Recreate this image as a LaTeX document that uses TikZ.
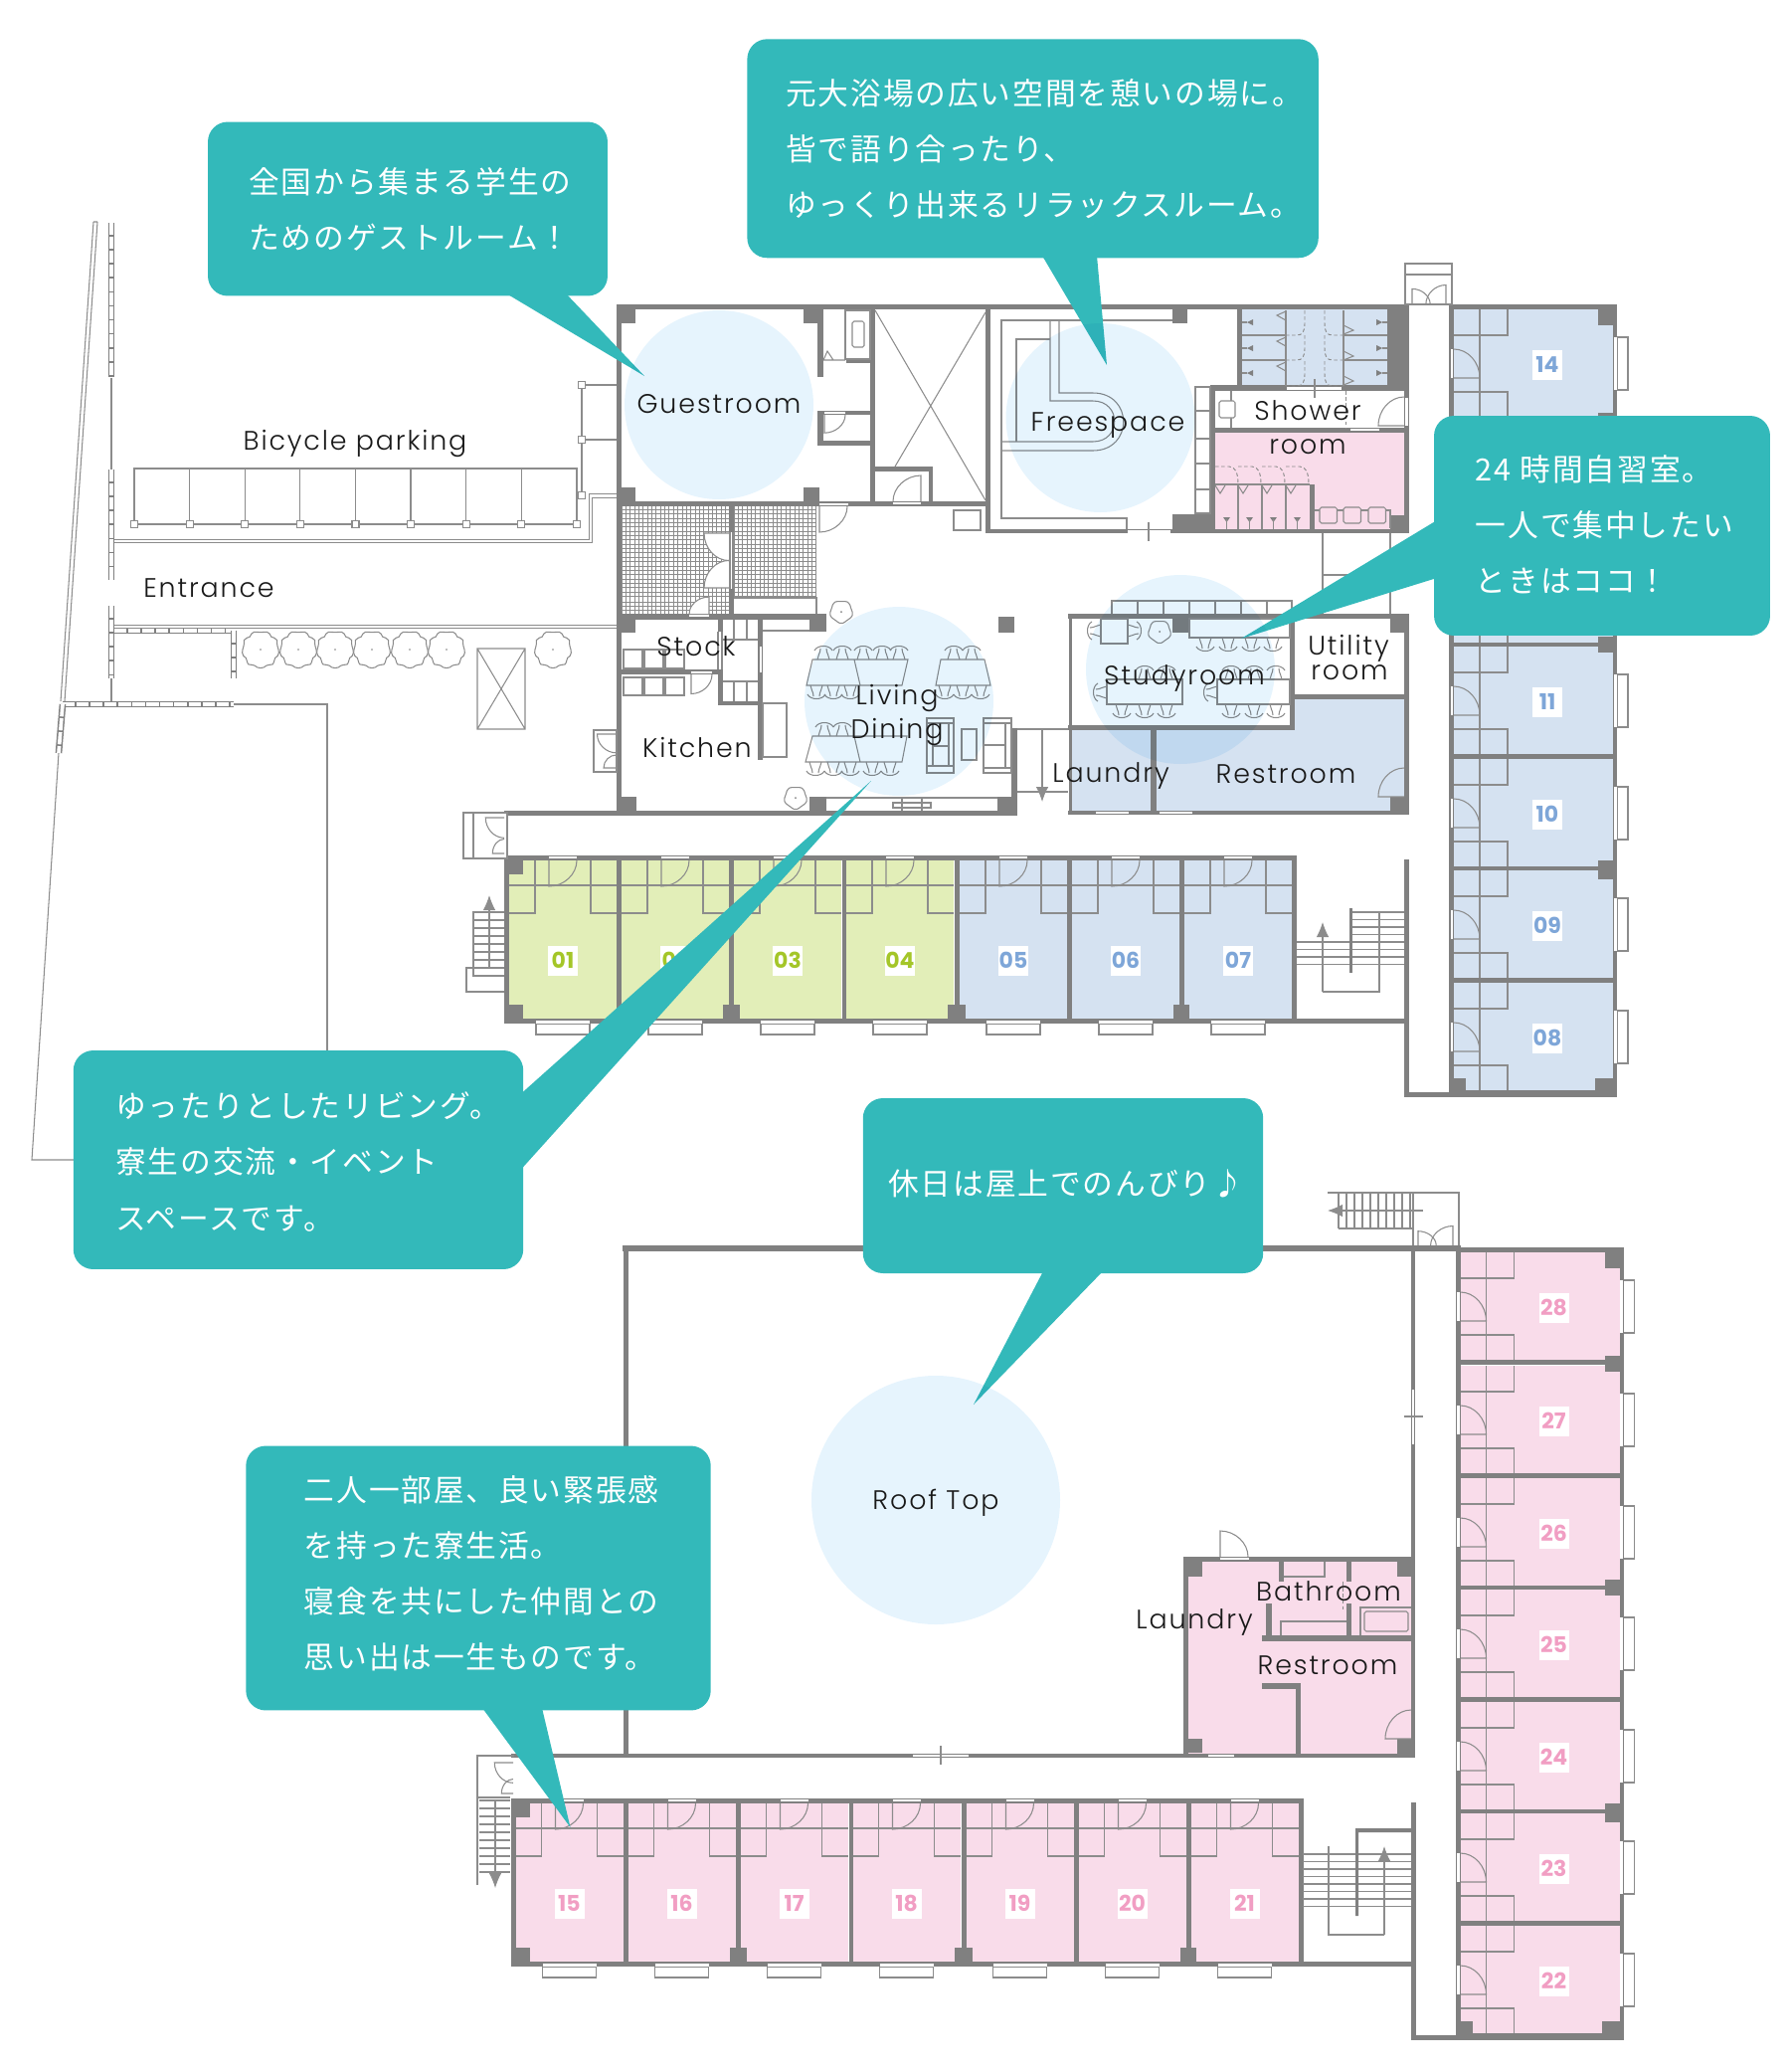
\documentclass[tikz,border=0pt]{standalone}
\usepackage{fontspec}
\setmainfont{Poppins}
\newfontfamily\labelfont[LetterSpace=7]{Poppins Light}
\newfontfamily\cjk[LetterSpace=6]{Noto Sans CJK JP}
\usetikzlibrary{positioning,arrows.meta,calc,decorations.pathreplacing}
\definecolor{wallGray}{RGB}{128,128,128}
\definecolor{lineGray}{RGB}{140,140,140}
\definecolor{roomGreen}{RGB}{226,238,184}
\definecolor{roomBlue}{RGB}{213,226,241}
\definecolor{roomPink}{RGB}{249,220,234}
\definecolor{numGreen}{RGB}{164,198,40}
\definecolor{numBlue}{RGB}{126,166,216}
\definecolor{numPink}{RGB}{241,158,195}
\definecolor{bubbleTeal}{RGB}{51,185,186}
\definecolor{spotBlue}{RGB}{230,244,253}
\tikzset{
  fineline/.style={draw=lineGray, line width=0.6pt},
  dashline/.style={draw=lineGray, line width=0.55pt, dash pattern=on 2pt off 1.5pt},
  twinline/.style={draw=lineGray, line width=0.6pt, double=white, double distance=1.6pt},
  bubble/.style={fill=bubbleTeal, rounded corners=0.4cm, inner sep=0pt},
  bubbletext/.style={text=white, anchor=west, align=left, inner sep=0pt, font=\cjk\fontsize{17.5}{31.9}\selectfont},
  roomlabel/.style={text=black!90, align=center, inner sep=0pt, font=\labelfont\fontsize{15.3}{15.3}\selectfont},
  numbox/.style={fill=white, minimum size=0.6cm, inner sep=0pt, font=\bfseries\fontsize{12.5}{12.5}\selectfont},
  doorV/.pic={\draw[fineline] (0,0) -- (0,26) .. controls (15,26) and (28,14) .. (28,0);},
  doorH/.pic={\draw[fineline] (0,0) -- (26,0) .. controls (26,-16) and (14,-29) .. (0,-29);},
  chairpic/.pic={\draw[fineline] (-6,0) .. controls (-6,4) and (-3,6) .. (-3,11) (6,0) .. controls (6,4) and (3,6) .. (3,11) (-9,9) .. controls (-6,15) and (6,15) .. (9,9);},
  chairside/.pic={\draw[fineline] (0,-6) .. controls (4,-6) and (6,-3) .. (11,-3) (0,6) .. controls (4,6) and (6,3) .. (11,3) (9,-9) .. controls (15,-6) and (15,6) .. (9,9);},
  stoolpic/.pic={\draw[fineline] plot[smooth cycle, domain=0:340, samples=18] ({11*(1+0.06*sin(5*\x))*cos(\x)},{11*(1+0.06*sin(5*\x))*sin(\x)}); \fill[wallGray] (0,0) circle (1);},
}
% one row of rooms along the south corridor
\newcommand{\southrow}[1]{
  \foreach \xl/\num/\fc/\nc in {#1} {
    \fill[\fc] (\xl,865) rectangle ++(108,159);
    \draw[fineline] (\xl,890) -- ++(108,0);
    \draw[fineline] (\xl,865) ++(26,0) -- ++(0,53) -- ++(-26,0);
    \draw[fineline] (\xl,865) ++(82,0) -- ++(0,53) -- ++(26,0);
    \pic at ($(\xl,865)+(40,0)$) {doorV};
    \draw[fineline,fill=white] (\xl,1029) ++(27,0) rectangle ++(54,11);
    \node[numbox,text=\nc] (room\num) at ($(\xl,965.5)+(54,0)$) {\num};
  }
  \foreach \ax/\ay/\bx/\by in {507/860/1304/865, 507/1024/1416/1029, 507/860/512/1029,
      620/865/625/1024, 733/865/738/1024, 847/865/851/1024, 960/865/965/1024,
      1073/865/1078/1024, 1186/865/1191/1024, 1299/865/1304/1024,
      512/865/526/879, 512/1010/526/1024, 727/1010/744/1024, 953/1010/971/1024, 1180/1010/1196/1024}
    \fill[wallGray] (\ax,\ay) rectangle (\bx,\by);
  \foreach \xl/\num/\fc/\nc in {#1} {
    \fill[white] (\xl,860.5) ++(40,0) rectangle ++(28,2.5);
    \fill[white] (\xl,1026) ++(27,0) rectangle ++(54,3);
  }
}
% one wing of rooms along the east corridor
\newcommand{\eastwing}[1]{
  \foreach \yt/\fc in {#1} {
    \fill[\fc] (1462,\yt) rectangle (1622,\yt+108);
    \draw[fineline] (1488,\yt) -- ++(0,108);
    \draw[fineline] (1462,\yt+26) -- ++(54,0) -- ++(0,-26);
    \draw[fineline] (1462,\yt+83) -- ++(54,0) -- ++(0,25);
    \pic at (1462,\yt+69) {doorH};
    \draw[fineline,fill=white] (1626,\yt+28) rectangle (1637,\yt+81);
    \fill[wallGray] (1462,\yt+108) rectangle (1626,\yt+113);
  }
  \foreach \ax/\ay/\bx/\by in {1457/306/1462/1103, 1622/306/1626/1103, 1457/306/1626/311,
      1412/1098/1626/1103, 1412/864/1417/1103, 1607/311/1622/327, 1607/415/1626/431,
      1607/640/1626/656, 1607/865/1626/884, 1604/1084/1626/1098, 1462/1084/1474/1098}
    \fill[wallGray] (\ax,\ay) rectangle (\bx,\by);
  \foreach \yt/\fc in {#1} {
    \fill[white] (1458.5,\yt+40) rectangle ++(2.5,29);
    \fill[white] (1622.5,\yt+28) rectangle ++(3,53);
  }
}
\newcommand{\brickline}[2]{
  \draw[draw=wallGray,line width=3.8pt] #1 -- #2;
  \draw[draw=white,line width=2.1pt,dash pattern=on 7pt off 1pt] #1 -- #2;
}
\begin{document}
\begin{tikzpicture}[x=0.02cm,y=-0.02cm]
  \useasboundingbox (0,0) rectangle (1800,2083);

  % Site outline
  \draw[fineline] (94,223) -- (61,705) (98,223) -- (65,705) (94,223) -- (98,223);
  \draw[fineline] (59,757) -- (32,1166) -- (76,1166);
  \draw[fineline] (112,379) -- (112,472) (112,682) -- (112,705);
  \draw[fineline] (235,708) -- (329,708) -- (329,1058);
  \brickline{(112,224)}{(112,379)}
  \brickline{(112,472)}{(112,583)}
  \brickline{(112,609)}{(112,682)}
  \brickline{(63,708)}{(235,708)}
  \brickline{(63,708)}{(59,757)}
  \brickline{(115,634)}{(238,634)}
  \brickline{(235,634)}{(235,682)}
  \draw[twinline] (115,544) -- (594,544) -- (594,498.5) -- (620,498.5);
  \draw[twinline] (115,630) -- (620,630);

  % Bicycle parking
  \draw[fineline] (135,527) -- (135,471) -- (580,471) -- (580,527) -- cycle;
  \draw[fineline] (585,387) -- (585,498) (585,387) -- (620,387) (585,442) -- (620,442);
  \foreach \px in {135,190.6,246.2,301.8,357.5,413,468.7,524.3,580} {
    \draw[fineline] (\px,471) -- (\px,527);
    \draw[fineline,fill=white] (\px-3.5,523.5) rectangle ++(7,7);
  }
  \foreach \py in {387,442,498} \draw[fineline,fill=white] (581.5,\py-3.5) rectangle ++(7,7);

  % Trees and lift pit
  \foreach \tx in {262,300,337,374,412,449,556} {
    \draw[fineline] plot[smooth cycle, domain=0:350, samples=36] ({\tx+18*(1+0.05*sin(9*\x)+0.02*sin(23*\x))*cos(\x)},{653+18*(1+0.05*sin(9*\x)+0.02*sin(23*\x))*sin(\x)});
    \fill[wallGray] (\tx,653) circle (0.8);
  }
  \draw[fineline] (480,652) rectangle (528,733) (480,652) -- (528,733) (528,652) -- (480,733);

  % Coloured floors, ground level
  \fill[roomBlue] (1249,311) rectangle (1395,388);
  \fill[roomPink] (1222,435) rectangle (1412,532);
  \fill[roomBlue] (1078,734) rectangle (1157,815);
  \fill[roomBlue] (1163,734) -- (1302,734) -- (1302,703) -- (1412,703) -- (1412,815) -- (1163,815) -- cycle;

  % Entrance tiles
  \foreach \gx in {625,629.35,...,734} \draw[lineGray,line width=0.45pt] (\gx,508) -- (\gx,617);
  \foreach \gx in {738,742.35,...,822} \draw[lineGray,line width=0.45pt] (\gx,508) -- (\gx,601);
  \foreach \gy in {508,512.35,...,601} \draw[lineGray,line width=0.45pt] (625,\gy) -- (821,\gy);
  \foreach \gy in {605,609.35,613.7} \draw[lineGray,line width=0.45pt] (625,\gy) -- (734,\gy);
  \draw[fineline] (738,601) -- (821,601) -- (821,617);

  % Main walls, ground level
  \foreach \ax/\ay/\bx/\by in {620/306/1417/311, 620/306/625/819, 875/306/880/509, 620/504/996/509,
      620/311/639/325, 808/311/828/325, 620/490/639/504, 808/490/824/504, 822/311/828/379,
      822/413/875/417, 822/443/875/448, 822/413/828/448, 851/361/875/365, 880/469/938/474, 934/469/938/504,
      733/509/738/535, 733/592/738/617, 620/617/831/623, 620/623/639/636, 620/801/640/815, 814/801/831/815, 814/623/831/635,
      1003/801/1017/815, 1004/620/1020/636, 1017/732/1023/819, 507/815/1023/820, 762/623/767/764, 625/673/722/678,
      722/623/727/635, 722/673/727/709, 722/705/767/709, 991/306/996/536, 991/532/1417/536, 1217/387/1222/532,
      1244/311/1249/393, 1217/387/1417/393, 1395/311/1417/393, 1217/430/1417/435, 1412/311/1417/536,
      1179/311/1194/325, 1179/517/1220/532, 1317/487/1322/532, 1398/518/1417/532,
      1074/617/1417/622, 1075/617/1078/819, 1074/729/1302/734, 1297/622/1302/734, 1302/698/1417/703,
      1157/734/1163/815, 1074/815/1417/819, 1412/617/1417/819, 1398/622/1415/636, 1179/622/1195/636,
      1398/801/1417/815}
    \fill[wallGray] (\ax,\ay) rectangle (\bx,\by);

  % Void, closets and bath
  \draw[fineline] (880,312) -- (991,503) (991,314) -- (900,469);
  \draw[fineline] (850,312) rectangle (875,361);
  \draw[fineline,rounded corners=1pt] (857,323) rectangle (869,349);
  \draw[fineline] (828,362) -- (850,362) (828,362) -- (832,353) -- (838,362);
  \pic[xscale=0.75,yscale=0.7] at (829,417) {doorV};
  \fill[white] (829,414) rectangle ++(21,2);
  \pic[xscale=-1,yscale=-1] at (926,504) {doorV};
  \fill[white] (898,505) rectangle ++(28,2);
  \pic at (824,509) {doorV};
  \fill[white] (824,506) rectangle ++(29,2);
  \draw[fineline] (959,513) rectangle (986,533);

  % Entrance double door
  \fill[white] (733,535) rectangle (738,592);
  \fill[white] (733,536) -- (708,536) .. controls (708,551) and (720,563.5) .. (733,563.5) -- cycle;
  \fill[white] (733,591) -- (708,591) .. controls (708,576) and (720,563.5) .. (733,563.5) -- cycle;
  \pic[xscale=-0.96,yscale=-0.95] at (733,536) {doorH};
  \pic[xscale=-0.96,yscale=0.95] at (733,591) {doorH};
  \draw[fineline] (734,535) -- (734,592) (737,535) -- (737,592);
  \fill[white] (713,617) -- (713,600) .. controls (702,600) and (693,608) .. (693,617) -- cycle;
  \pic[xscale=-0.71,yscale=-0.65] at (713,617) {doorV};
  \fill[white] (693,618) rectangle ++(20,2);

  % Freespace
  \draw[fineline] (1179,322) -- (1007,322) -- (1007,521) -- (1133,521) -- (1133,532);
  \draw[fineline] (1065,322) -- (1065,395) -- (1099,395) .. controls (1140,395) and (1140,453) .. (1099,453) -- (1007,453);
  \draw[fineline] (1056,322) -- (1056,403) -- (1099,403) .. controls (1128,403) and (1128,444) .. (1099,444) -- (1007,444);
  \draw[fineline] (1056,341) -- (1022,341) -- (1022,444);
  \draw[fineline] (1202,389) rectangle (1217,516);
  \foreach \by in {413,441,466,492} \draw[fineline] (1202,\by) -- (1217,\by);
  \fill[white] (1134,532.5) rectangle (1177,535.5);
  \draw[fineline] (1155,525) -- (1155,544);

  % Toilets
  \draw[fineline] (1249,337) -- (1293,337) (1249,362) -- (1293,362) (1351,337) -- (1395,337) (1351,362) -- (1395,362) (1293,312) -- (1293,388) (1351,312) -- (1351,388);
  \foreach \by in {324,350,375} {
    \fill[wallGray] (1254,\by) -- (1260,\by-3) -- (1260,\by+3) -- cycle;
    \fill[wallGray] (1390,\by) -- (1384,\by-3) -- (1384,\by+3) -- cycle;
    \draw[fineline] (1249,\by) -- (1254,\by) (1390,\by) -- (1395,\by);
    \draw[fineline] (1293,\by-11) -- (1284,\by-7) -- (1293,\by-2);
    \draw[fineline] (1351,\by+3) -- (1361,\by+8) -- (1351,\by+12);
  }
  \foreach \by in {337,362,388} {
    \draw[dashline] (1293,\by) -- (1304,\by) .. controls (1310,\by) and (1312,\by-4) .. (1312,\by-12) -- (1312,\by-25);
    \draw[dashline] (1351,\by) -- (1340,\by) .. controls (1334,\by) and (1332,\by-4) .. (1332,\by-12) -- (1332,\by-25);
  }
  \fill[white] (1294,389) rectangle (1349,392);
  \draw[fineline] (1322,381) -- (1322,400);

  % Showers
  \draw[fineline] (1238,393) -- (1238,430);
  \draw[fineline,rounded corners=1pt,fill=white] (1226,403) rectangle (1242,420);
  \pic[xscale=-1] at (1412,428) {doorH};
  \fill[white] (1358,431) rectangle (1387,433);
  \fill[white] (1412.5,400) rectangle (1415.5,428);
  \draw[dashline] (1353,393) -- (1353,430);
  \draw[fineline] (1222,487) -- (1317,487);
  \foreach \sx in {1245,1269,1293} \draw[fineline] (\sx,487) -- (\sx,532);
  \foreach \sx in {1222,1245,1269,1293} {
    \draw[dashline] (\sx,469) -- (\sx+14,469) .. controls (\sx+20,469) and (\sx+23,475) .. (\sx+23,487);
    \draw[fineline] (\sx,488) -- (\sx+5,496) -- (\sx+10,488);
    \fill[wallGray] (\sx+8,520) -- (\sx+15,520) -- (\sx+11.5,525) -- cycle;
    \draw[fineline] (\sx+11.5,522) -- (\sx+11.5,532);
  }
  \draw[fineline] (1322,513) -- (1398,513) -- (1398,531);
  \foreach \sx in {1327,1351,1376} \draw[fineline,rounded corners=1pt,fill=roomPink] (\sx,510) rectangle ++(17.5,16);

  % Stock, kitchen and stairs
  \foreach \sx in {627,648,669} \draw[fineline] (\sx,653) rectangle ++(19,19) (\sx,681) rectangle ++(19,18);
  \pic[xscale=0.75,yscale=0.75] at (695,678) {doorV};
  \fill[white] (695,675) rectangle ++(21,2);
  \draw[fineline] (722,635) -- (722,673) (726,635) -- (726,673);
  \draw[fineline] (727,643) -- (762,643) (727,685) -- (762,685) (738,623) -- (738,643) (751,623) -- (751,643) (738,685) -- (738,705) (751,685) -- (751,705);
  \fill[white] (763.5,650) rectangle (765.5,676);
  \draw[fineline] (767,707) rectangle (791,761) (767,634) -- (814,634);
  \draw[fineline] (597,734) rectangle (620,776);
  \pic[xscale=-0.75,yscale=-0.65] at (620,738) {doorH};
  \pic[xscale=-0.5,yscale=0.45] at (620,772) {doorH};

  % Living and dining
  \pic at (846,615) {stoolpic};
  \pic at (800,802) {stoolpic};
  \draw[fineline] (817,663) -- (913,663) -- (907,689) -- (811,689) -- cycle (859,663) -- (865,689);
  \draw[fineline] (946,663) -- (990,663) -- (996,689) -- (941,689) -- cycle;
  \draw[fineline] (817,740) -- (912,740) -- (907,766) -- (810,766) -- cycle (859,740) -- (865,766);
  \foreach \cx in {828,847,868,887,904,959,977} \pic[yscale=-1] at (\cx,663) {chairpic};
  \foreach \cx in {829,847} \pic[yscale=-1] at (\cx,740) {chairpic};
  \foreach \cx in {821,838,855,950,968,986} \pic at (\cx,689) {chairpic};
  \foreach \cx in {820,838,855,877,895} \pic at (\cx,766) {chairpic};
  \draw[fineline] (932,722) rectangle (959,777) (932,727) -- (959,727) (932,770) -- (959,770) (938,727) -- (938,770) (954,727) -- (954,770) (938,750) -- (954,750);
  \draw[fineline] (989,722) rectangle (1017,777) (989,727) -- (1017,727) (989,772) -- (1017,772) (1011,727) -- (1011,772) (989,749) -- (1011,749);
  \draw[fineline] (967,733) rectangle (982,764);
  \draw[fineline] (831,802) -- (1003,802) (898,807) rectangle (936,812) (907,802) -- (907,815) (927,802) -- (927,815);
  \draw[fineline] (1023,733) -- (1074,733) (1023,796) -- (1074,796);
  \draw[lineGray,line width=0.6pt,-{Latex[length=0.3cm,width=0.25cm]}] (1048,734) -- (1048,806);

  % Studyroom
  \draw[fineline] (1118,617) -- (1118,604) -- (1299,604) -- (1299,617);
  \foreach \sx in {1144,1170,1196,1222,1248,1274} \draw[fineline] (\sx,604) -- (\sx,617);
  \draw[fineline] (1330,536) -- (1330,617) (1398,536) -- (1398,617) (1330,578) -- (1398,578);
  \draw[fineline] (1107,622) rectangle (1134,647) (1196,622) rectangle (1297,641);
  \draw[fineline] (1113,683) rectangle (1189,708) (1224,683) rectangle (1297,708);
  \pic at (1166,635) {stoolpic};
  \foreach \cx in {1212,1235,1258,1280} \pic at (\cx,641) {chairpic};
  \foreach \cx in {1128,1151,1173,1238,1261,1283} \pic at (\cx,708) {chairpic};
  \foreach \cx in {1151,1173,1238,1261,1283} \pic[yscale=-1] at (\cx,683) {chairpic};
  \pic[xscale=-1] at (1107,634) {chairside};
  \pic at (1134,634) {chairside};
  \pic[xscale=-1] at (1113,696) {chairside};
  \pic[xscale=-1] at (1224,696) {chairside};
  \foreach \wx in {1102,1166} \fill[white] (\wx,816) rectangle ++(33,2);
  \pic[xscale=-1] at (1412,801) {doorH};

  % South rooms, ground level
  \southrow{512/01/roomGreen/numGreen, 625/02/roomGreen/numGreen, 738/03/roomGreen/numGreen, 851/04/roomGreen/numGreen, 965/05/roomBlue/numBlue, 1078/06/roomBlue/numBlue, 1191/07/roomBlue/numBlue}

  % East rooms, ground level
  \eastwing{311/roomBlue,425/roomBlue,538/roomBlue,650/roomBlue,763/roomBlue,875/roomBlue,988/roomBlue}
  \foreach \yt/\num in {311/14,650/11,763/10,875/09,988/08}
    \node[numbox,text=numBlue] (room\num) at (1556,\yt+55.5) {\num};

  % Doors and stairs, ground level
  \draw[fineline,fill=white] (1413,265) rectangle (1460,306) (1413,276) -- (1460,276);
  \pic[xscale=0.65,yscale=-0.6] at (1420,306) {doorV};
  \pic[xscale=-0.72,yscale=-0.75] at (1454,306) {doorV};
  \draw[fineline,fill=white] (466,817) rectangle (510,863) (476,817) -- (476,863);
  \pic[xscale=-0.72,yscale=-0.7] at (507,822) {doorH};
  \pic[xscale=-0.45,yscale=0.5] at (507,858) {doorH};
  \foreach \sy in {917,925,...,982} \draw[lineGray,line width=0.8pt] (475,\sy) -- (507,\sy);
  \draw[lineGray,line width=0.8pt] (476,917) -- (476,982);
  \draw[lineGray,line width=0.6pt,-{Latex[length=0.3cm,width=0.25cm]}] (492,973) -- (492,900);
  \draw[fineline] (507,973) -- (469,973) -- (469,997) -- (507,997);
  \foreach \sy in {917,924.5,...,947} \draw[lineGray,line width=0.8pt] (1358,\sy) -- (1412,\sy);
  \foreach \sy in {947,954.5,...,974} \draw[lineGray,line width=0.8pt] (1304,\sy) -- (1412,\sy);
  \fill[wallGray] (1357,913) rectangle (1360,978);
  \draw[lineGray,line width=0.6pt,-{Latex[length=0.3cm,width=0.25cm]}] (1330,997) -- (1330,927);
  \draw[fineline] (1330,997) -- (1387,997) -- (1387,917);

  % Roof top, upper level
  \foreach \ax/\ay/\bx/\by in {626/1252/1469/1258, 1419/1252/1423/1767, 627/1252/632/1767, 514/1763/1423/1767,
      1190/1565/1423/1570, 1190/1565/1195/1767, 1195/1570/1209/1585, 1195/1748/1209/1762}
    \fill[wallGray] (\ax,\ay) rectangle (\bx,\by);
  \fill[roomPink] (1195,1570) rectangle (1419,1763);
  \foreach \ax/\ay/\bx/\by in {1195/1570/1209/1585, 1195/1748/1209/1762, 1405/1570/1419/1585, 1405/1748/1423/1767,
      1286/1570/1291/1590, 1354/1570/1359/1590, 1273/1612/1279/1644, 1354/1612/1359/1644, 1269/1644/1419/1650,
      1269/1692/1308/1698, 1303/1692/1308/1763}
    \fill[wallGray] (\ax,\ay) rectangle (\bx,\by);
  \draw[fineline] (1291,1585) -- (1332,1585) -- (1332,1570) (1288,1644) -- (1288,1630) -- (1354,1630);
  \draw[fineline] (1368,1644) -- (1368,1616) -- (1419,1616);
  \draw[fineline,rounded corners=1pt] (1372,1620) rectangle (1416,1640);
  \draw[dashline] (1350,1590) -- (1350,1620);
  \pic[yscale=-1] at (1227,1565) {doorV};
  \fill[white] (1227,1566) rectangle ++(29,2);
  \pic[xscale=-1] at (1419,1748) {doorH};
  \fill[white] (1215,1763.5) rectangle ++(26,2);
  \fill[white] (918,1764) rectangle (974,1766);
  \draw[fineline] (946,1755) -- (946,1774);
  \fill[white] (1420,1397) rectangle (1422,1452);
  \draw[fineline] (1412,1424) -- (1431,1424);

  % Upper rooms, same plan as below
  \begin{scope}[shift={(6.5,948)}]
    \southrow{512/15/roomPink/numPink, 625/16/roomPink/numPink, 738/17/roomPink/numPink, 851/18/roomPink/numPink, 965/19/roomPink/numPink, 1078/20/roomPink/numPink, 1191/21/roomPink/numPink}
    \eastwing{311/roomPink,425/roomPink,538/roomPink,650/roomPink,763/roomPink,875/roomPink,988/roomPink}
    \foreach \yt/\num in {311/28,425/27,538/26,650/25,763/24,875/23,988/22}
      \node[numbox,text=numPink] (room\num) at (1556,\yt+55.5) {\num};
  \end{scope}

  % Stairs and doors, upper level
  \draw[fineline] (480,1895) -- (480,1765) -- (517,1765) (480,1807) -- (513,1807);
  \pic[xscale=-0.72,yscale=-0.7] at (516,1772) {doorH};
  \pic[xscale=-0.45,yscale=0.5] at (516,1803) {doorH};
  \foreach \sy in {1810,1818,...,1883} \draw[lineGray,line width=0.8pt] (482,\sy) -- (513,\sy);
  \draw[lineGray,line width=0.6pt,-{Latex[length=0.3cm,width=0.25cm]}] (498,1810) -- (498,1898);
  \foreach \sy in {1864,1871.5,...,1922} \draw[lineGray,line width=0.8pt] (1310,\sy) -- (1419,\sy);
  \fill[wallGray] (1363,1838) rectangle (1366,1926) (1363,1838) rectangle (1419,1842);
  \draw[lineGray,line width=0.6pt,-{Latex[length=0.3cm,width=0.25cm]}] (1392,1945) -- (1392,1856);
  \draw[fineline] (1392,1945) -- (1336,1945) -- (1336,1856);
  \draw[fineline] (1335,1199) -- (1467,1199) -- (1467,1252) (1421,1199) -- (1421,1252) (1346,1235) -- (1421,1235) (1346,1199) -- (1346,1235);
  \foreach \sx in {1354,1362,...,1418} \draw[fineline] (\sx,1199) -- (\sx,1235);
  \draw[lineGray,line width=0.6pt,-{Latex[length=0.3cm,width=0.25cm]}] (1431,1217) -- (1335,1217);
  \pic[xscale=0.65,yscale=-0.55] at (1426,1252) {doorV};
  \pic[xscale=-0.8,yscale=-0.75] at (1461,1252) {doorV};

  % Speech bubbles
  \node[bubble, minimum width=8.04cm, minimum height=3.5cm] (guestbubble) at (410,210) {};
  \fill[bubbleTeal] (509,295) -- (648,378) -- (569,295) -- cycle;
  \node[bubbletext] (guesttext) at (250,210.5) {全国から集まる学生の\\ためのゲストルーム！};
  \node[bubble, minimum width=11.49cm, minimum height=4.4cm] (freebubble) at (1038.6,149.3) {};
  \fill[bubbleTeal] (1048,257) -- (1113,367) -- (1103,257) -- cycle;
  \node[bubbletext] (freetext) at (790,149.5) {元大浴場の広い空間を憩いの場に。\\皆で語り合ったり、\\ゆっくり出来るリラックスルーム。};
  \node[bubble, minimum width=6.76cm, minimum height=4.42cm] (studybubble) at (1611,528.5) {};
  \fill[bubbleTeal] (1445,523) -- (1248,642) -- (1445,581) -- cycle;
  \node[bubbletext] (studytext) at (1483.6,527.5) {24 時間自習室。\\一人で集中したい\\ときはココ！};
  \node[bubble, minimum width=9.05cm, minimum height=4.4cm] (livingbubble) at (300,1166) {};
  \fill[bubbleTeal] (520,1103) -- (876,785) -- (520,1180) -- cycle;
  \node[bubbletext] (livingtext) at (116,1168) {ゆったりとしたリビング。\\寮生の交流・イベント\\スペースです。};
  \node[bubble, minimum width=8.05cm, minimum height=3.52cm] (roofbubble) at (1069,1192) {};
  \fill[bubbleTeal] (1049,1278) -- (979,1412) -- (1109,1278) -- cycle;
  \node[bubbletext] (rooftext) at (893,1189.5) {休日は屋上でのんびり♪};
  \node[bubble, minimum width=9.35cm, minimum height=5.32cm] (pinkbubble) at (481,1586.5) {};
  \fill[bubbleTeal] (485,1717) -- (573.5,1837) -- (545,1717) -- cycle;
  \node[bubbletext] (pinktext) at (305.5,1581.5) {二人一部屋、良い緊張感\\を持った寮生活。\\寝食を共にした仲間との\\思い出は一生ものです。};

  % Soft spots over the rooms
  \begin{scope}[blend mode=multiply]
    \foreach \sx/\sy/\sr in {723/407/95, 1106.5/420/95, 904/705/95, 1187/673/95, 941/1508/125}
      \fill[spotBlue] (\sx,\sy) circle (\sr);
  \end{scope}

  % Room labels
  \foreach \nm/\lx/\ly/\txt in {bike/357/446/Bicycle parking, entrance/210/591/Entrance, guest/723/406/Guestroom,
      free/1114/428/Freespace, shower/1315/413/Shower, showerb/1315/449/room, stock/700/650/Stock,
      kitchen/701/751/Kitchen, living/902/702/Living, dining/902/736/Dining, study/1191/682/Studyroom,
      utility/1356/652/Utility, utilityb/1357/676/room, laundry/1117/780/Laundry, rest/1293/778/Restroom,
      roof/941/1511/Roof Top, laundryb/1201/1631/Laundry, bath/1336/1600/Bathroom, restb/1335/1674/Restroom}
    \node[roomlabel] (\nm label) at (\lx,\ly) {\txt};
\end{tikzpicture}
\end{document}
